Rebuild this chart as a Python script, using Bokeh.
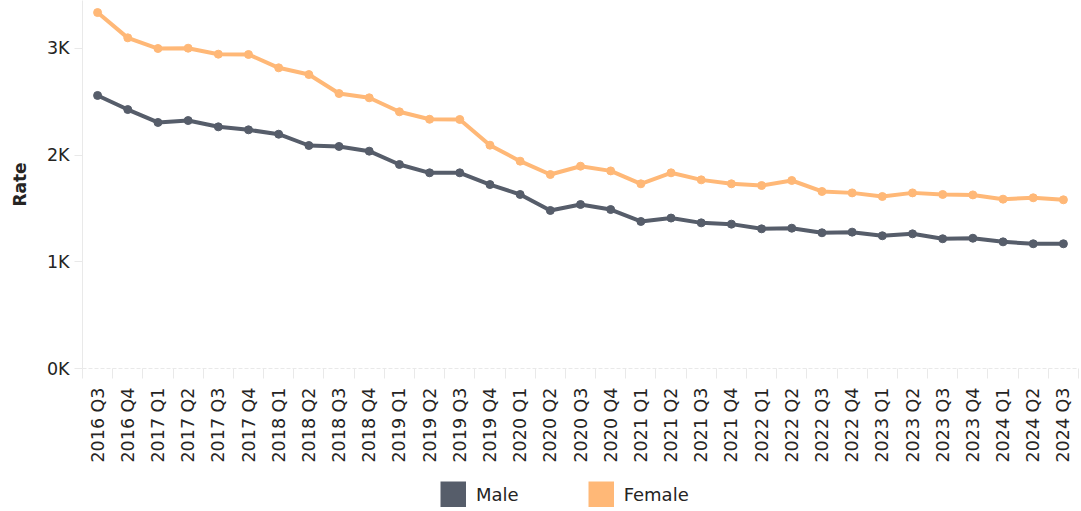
import math
from bokeh.plotting import figure
from bokeh.layouts import column
from bokeh.models import ColumnDataSource, Range1d, FixedTicker, Legend, LegendItem
from bokeh.embed import file_html
from bokeh.resources import INLINE

quarters = ["2016 Q3", "2016 Q4", "2017 Q1", "2017 Q2", "2017 Q3", "2017 Q4",
            "2018 Q1", "2018 Q2", "2018 Q3", "2018 Q4", "2019 Q1", "2019 Q2",
            "2019 Q3", "2019 Q4", "2020 Q1", "2020 Q2", "2020 Q3", "2020 Q4",
            "2021 Q1", "2021 Q2", "2021 Q3", "2021 Q4", "2022 Q1", "2022 Q2",
            "2022 Q3", "2022 Q4", "2023 Q1", "2023 Q2", "2023 Q3", "2023 Q4",
            "2024 Q1", "2024 Q2", "2024 Q3"]

male = [2559, 2427, 2306, 2324, 2265, 2237, 2196, 2090, 2081, 2037, 1912, 1834,
        1834, 1724, 1631, 1481, 1537, 1490, 1378, 1410, 1365, 1353, 1309, 1315,
        1272, 1278, 1244, 1262, 1216, 1221, 1187, 1169, 1169]

female = [3336, 3099, 2999, 3002, 2946, 2943, 2818, 2755, 2577, 2537, 2406, 2336,
          2334, 2093, 1943, 1818, 1896, 1852, 1731, 1834, 1768, 1731, 1715, 1762,
          1659, 1646, 1612, 1646, 1631, 1627, 1587, 1600, 1581]

y_ticks = [0, 1000, 2000, 3000]
y_tick_labels = ["0K", "1K", "2K", "3K"]
series_names = ["Male", "Female"]

MALE_COLOR = "#565d6a"
FEMALE_COLOR = "#ffb877"
FONT = "DejaVu Sans"
TXT = "#252423"
AXC = "#e9e9e9"
W = 1081

n = len(quarters)
idx = list(range(n))
src = ColumnDataSource(dict(x=idx, male=male, female=female))

p = figure(width=W, height=468, output_backend="svg", toolbar_location=None,
           x_range=Range1d(-0.5, n - 0.5), y_range=Range1d(0, 3449),
           min_border_left=82, min_border_right=3, min_border_top=0,
           min_border_bottom=100)
p.outline_line_color = None
p.xgrid.visible = False
p.ygrid.visible = False

# x axis
xa = p.xaxis[0]
xa.ticker = FixedTicker(ticks=idx, minor_ticks=[i - 0.5 for i in range(n + 1)])
xa.major_label_overrides = {i: q for i, q in enumerate(quarters)}
xa.major_label_orientation = math.pi / 2
xa.major_tick_line_color = None
xa.major_tick_out = 0
xa.major_tick_in = 0
xa.minor_tick_line_color = AXC
xa.minor_tick_out = 10
xa.minor_tick_in = 0
xa.axis_line_color = AXC
xa.axis_line_dash = "4 2"
xa.major_label_standoff = 9
xa.major_label_text_font = FONT
xa.major_label_text_font_size = "17.5px"
xa.major_label_text_color = TXT

# y axis
ya = p.yaxis[0]
ya.ticker = FixedTicker(ticks=y_ticks)
ya.major_label_overrides = {t: l for t, l in zip(y_ticks, y_tick_labels)}
ya.axis_line_color = AXC
ya.major_tick_line_color = AXC
ya.major_tick_out = 8
ya.major_tick_in = 0
ya.minor_tick_line_color = None
ya.major_label_standoff = 5
ya.major_label_text_font = FONT
ya.major_label_text_font_size = "17.5px"
ya.major_label_text_color = TXT
ya.axis_label = "Rate"
ya.axis_label_text_font = FONT
ya.axis_label_text_font_size = "17px"
ya.axis_label_text_font_style = "bold"
ya.axis_label_text_color = TXT
ya.axis_label_standoff = 14

# series
p.line("x", "male", source=src, line_width=4, line_color=MALE_COLOR)
p.scatter("x", "male", source=src, size=8, fill_color=MALE_COLOR, line_color=MALE_COLOR)
p.line("x", "female", source=src, line_width=4, line_color=FEMALE_COLOR)
p.scatter("x", "female", source=src, size=8, fill_color=FEMALE_COLOR, line_color=FEMALE_COLOR)

# legend strip below the chart
lf = figure(width=W, height=43, output_backend="svg", toolbar_location=None,
            x_range=Range1d(0, 1), y_range=Range1d(0, 1),
            x_axis_type=None, y_axis_type=None,
            min_border_left=0, min_border_right=0, min_border_top=0,
            min_border_bottom=0)
lf.outline_line_color = None
lf.xgrid.visible = False
lf.ygrid.visible = False

nan = float("nan")
proxy = ColumnDataSource(dict(x=[nan], y=[nan]))
rm = lf.line("x", "y", source=proxy, line_width=26, line_color=MALE_COLOR, line_cap="butt")
rf = lf.line("x", "y", source=proxy, line_width=26, line_color=FEMALE_COLOR, line_cap="butt")

legend = Legend(items=[LegendItem(label=series_names[0], renderers=[rm]),
                       LegendItem(label=series_names[1], renderers=[rf])],
                orientation="horizontal", location=(358, 4),
                glyph_width=26, glyph_height=26, label_standoff=10, spacing=69,
                padding=0, margin=0, border_line_color=None,
                label_text_font=FONT, label_text_font_size="18px",
                label_text_color=TXT, background_fill_alpha=0)
lf.add_layout(legend)

layout = column(p, lf, spacing=0)
open("out.html", "w").write(file_html(layout, INLINE))
